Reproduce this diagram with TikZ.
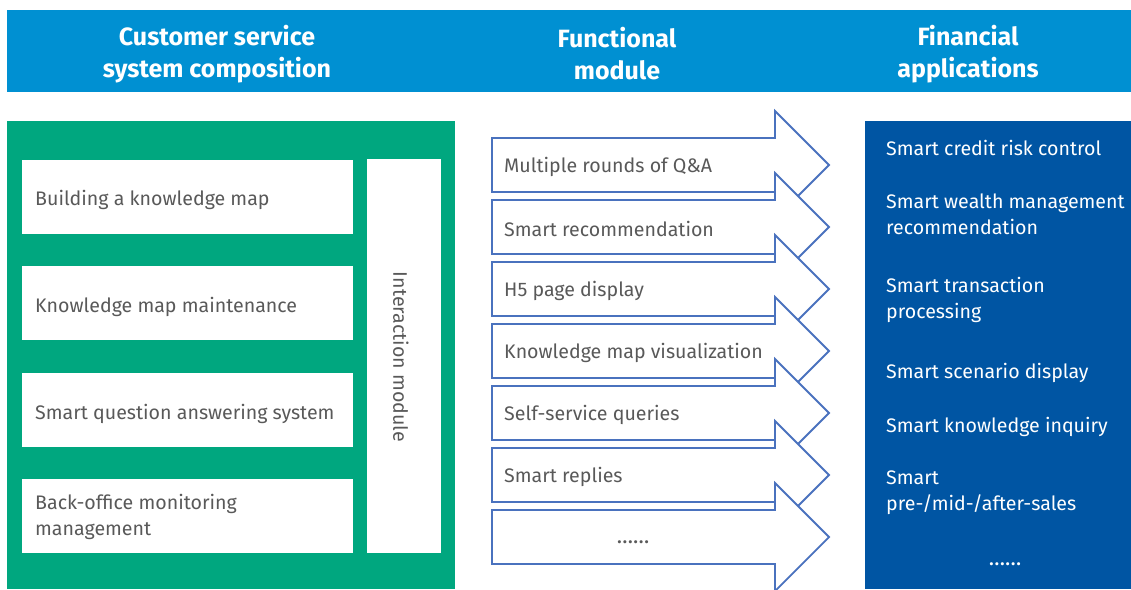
\documentclass[tikz,border=0pt]{standalone}
\usepackage{fontspec}
\setmainfont{Fira Sans}
\definecolor{hdrblue}{HTML}{0090D2}
\definecolor{pgreen}{HTML}{00A77F}
\definecolor{pblue}{HTML}{0055A3}
\definecolor{aline}{HTML}{4A72BE}
\definecolor{tgray}{HTML}{595959}
\tikzset{
  hdrtxt/.style={text=white,font=\fontsize{25}{32}\selectfont\bfseries,align=center},
  wbox/.style={fill=white,draw=none},
  boxtxt/.style={text=tgray,font=\fontsize{19.6}{26}\selectfont,anchor=west,align=left,inner sep=0pt},
  arrowshape/.style={draw=aline,line width=1.8pt,fill=white,line join=miter},
  apptxt/.style={text=white,font=\fontsize{19.6}{26}\selectfont,anchor=west,align=left,inner sep=0pt},
}
\begin{document}
\begin{tikzpicture}[x=1pt,y=-1pt]
\useasboundingbox (0,0) rectangle (1131,589);
\clip (0,0) rectangle (1131,589);
% header
\fill[hdrblue] (7,10) rectangle (1131,92);
\node[hdrtxt] (h1) at (217,54) {Customer service\\system composition};
\node[hdrtxt] (h2) at (617,54) {Functional\\module};
\node[hdrtxt] (h3) at (968,54) {Financial\\applications};
% left panel
\fill[pgreen] (7,121) rectangle (455,589);
\fill[wbox] (22,160) rectangle (353,234);
\fill[wbox] (22,266) rectangle (353,340);
\fill[wbox] (22,373) rectangle (353,447);
\fill[wbox] (22,479) rectangle (353,553);
\fill[wbox] (367,159) rectangle (441,553);
\node[boxtxt] (b1) at (35,200) {Building a knowledge map};
\node[boxtxt] (b2) at (35,307) {Knowledge map maintenance};
\node[boxtxt] (b3) at (35,414) {Smart question answering system};
\node[boxtxt] (b4) at (35,517) {Back-office monitoring\\management};
\node[text=tgray,font=\fontsize{19.6}{26}\selectfont,rotate=-90,inner sep=0pt] (im) at (401,357) {Interaction module};
% arrows
\foreach \c/\t [count=\i] in {165/Multiple rounds of Q\&A,227/Smart recommendation,289/H5 page display,351/Knowledge map visualization,413/Self-service queries,475/Smart replies,537/{}}{
  \draw[arrowshape] (492,\c-27) -- (775,\c-27) -- (775,\c-54) -- (829,\c) -- (775,\c+54) -- (775,\c+27) -- (492,\c+27) -- cycle;
  \node[boxtxt] (a\i) at (504,\c+1.5) {\t};
}
\node[text=tgray,font=\fontsize{22}{26}\selectfont] (adots) at (633,542) {……};
% right panel
\fill[pblue] (865,121) rectangle (1131,589);
\node[apptxt] (r1) at (886,148) {Smart credit risk control};
\node[apptxt] (r2) at (886,214) {Smart wealth management\\recommendation};
\node[apptxt] (r3) at (886,300) {Smart transaction\\processing};
\node[apptxt] (r4) at (886,373) {Smart scenario display};
\node[apptxt] (r5) at (886,427) {Smart knowledge inquiry};
\node[apptxt] (r6) at (886,493) {Smart\\pre-/mid-/after-sales};
\node[text=white,font=\fontsize{22}{26}\selectfont] (rdots) at (1005,564) {……};
\end{tikzpicture}
\end{document}
